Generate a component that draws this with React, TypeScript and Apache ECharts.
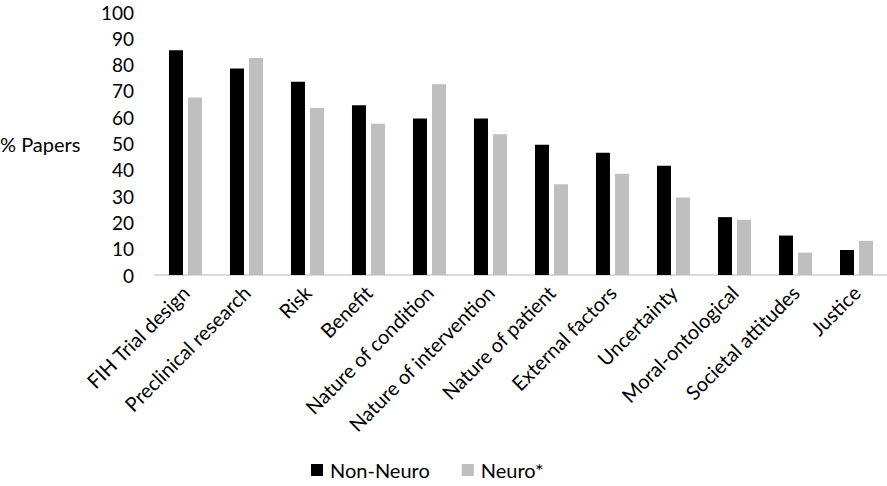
import React, { useEffect, useRef } from "react";
import * as echarts from "echarts";

const categories = [
  "FIH Trial design",
  "Preclinical research",
  "Risk",
  "Benefit",
  "Nature of condition",
  "Nature of intervention",
  "Nature of patient",
  "External factors",
  "Uncertainty",
  "Moral-ontological",
  "Societal attitudes",
  "Justice",
];
const nonNeuro = [85.5, 78.5, 73.5, 64.5, 59.5, 59.5, 49.5, 46.5, 41.5, 22, 15, 9.5];
const neuro = [67.5, 82.5, 63.5, 57.5, 72.5, 53.5, 34.5, 38.5, 29.5, 21, 8.5, 13];
const seriesNames = ["Non-Neuro", "Neuro*"];
const yAxisTitle = "% Papers";

const FONT = "Lato";

export default function App() {
  const ref = useRef<HTMLDivElement>(null);
  useEffect(() => {
    if (!ref.current) return;
    const chart = echarts.init(ref.current, null, { renderer: "svg" });
    chart.setOption({
      animation: false,
      backgroundColor: "#ffffff",
      textStyle: { fontFamily: FONT, color: "#000" },
      grid: { left: 155, right: 0, top: 12, bottom: 211, containLabel: false },
      legend: {
        bottom: 1,
        left: 306,
        itemWidth: 12,
        itemHeight: 12,
        itemGap: 32,
        icon: "rect",
        textStyle: { fontFamily: FONT, fontSize: 20, color: "#000", padding: [0, 0, 0, 2] },
        data: seriesNames,
      },
      graphic: [
        {
          type: "text",
          left: 0,
          top: 134,
          style: { text: yAxisTitle, font: `20px ${FONT}`, fill: "#000" },
        },
      ],
      xAxis: {
        type: "category",
        data: categories,
        axisLine: { show: true, lineStyle: { color: "#d9d9d9", width: 2 } },
        axisTick: { show: false },
        axisLabel: {
          rotate: 45,
          interval: 0,
          margin: 14,
          fontFamily: FONT,
          fontSize: 20,
          color: "#000",
        },
      },
      yAxis: {
        type: "value",
        min: 0,
        max: 100,
        interval: 10,
        axisLine: { show: false },
        axisTick: { show: false },
        splitLine: { show: false },
        axisLabel: { margin: 21, fontFamily: FONT, fontSize: 19, color: "#000" },
      },
      series: [
        {
          name: seriesNames[0],
          type: "bar",
          data: nonNeuro,
          barWidth: 14,
          barGap: "36%",
          itemStyle: { color: "#000000" },
        },
        {
          name: seriesNames[1],
          type: "bar",
          data: neuro,
          barWidth: 14,
          barGap: "36%",
          itemStyle: { color: "#bfbfbf" },
        },
      ],
    });
    return () => chart.dispose();
  }, []);
  return <div ref={ref} style={{ width: 887, height: 486, position: "absolute", left: 0, top: 0 }} />;
}
